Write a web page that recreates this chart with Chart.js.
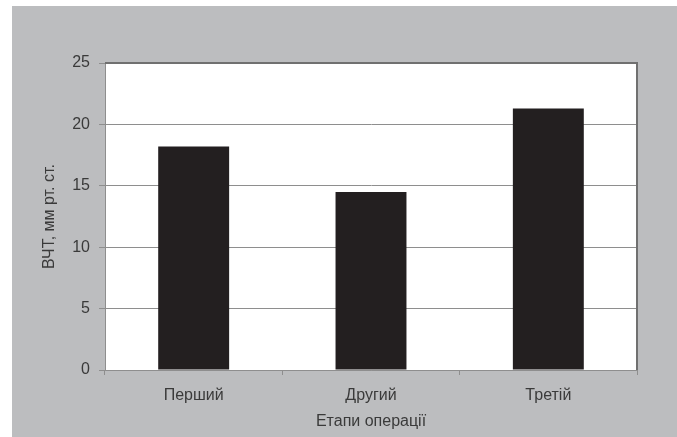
<!DOCTYPE html>
<html lang="uk">
<head>
    <meta charset="UTF-8">
    <title>ВЧТ за етапами операції</title>
    <script src="https://cdn.jsdelivr.net/npm/chart.js@4.4.0/dist/chart.umd.min.js"></script>
    <style>
        body {
            margin: 0;
            background-color: #ffffff;
        }
        .panel {
            position: absolute;
            left: 12px;
            top: 6px;
            width: 665px;
            height: 431px;
            background-color: #bcbdbf;
        }
    </style>
</head>
<body>
    <div class="panel">
        <canvas id="chart" width="665" height="431"></canvas>
    </div>

    <script>
        const stages = ['Перший', 'Другий', 'Третій'];
        const pressureValues = [18.2, 14.5, 21.3];
        const yTicks = [0, 5, 10, 15, 20, 25];

        const textColor = '#3a3a3a';
        const gridColor = '#8e8e8e';

        // white plot area plus the darker frame on top and right
        const plotFrame = {
            id: 'plotFrame',
            beforeDraw(chart) {
                const {ctx, chartArea: a} = chart;
                ctx.save();
                ctx.fillStyle = '#ffffff';
                ctx.fillRect(a.left, a.top, a.right - a.left, a.bottom - a.top);
                ctx.restore();
            },
            afterDraw(chart) {
                const {ctx, chartArea: a} = chart;
                ctx.save();
                ctx.strokeStyle = '#707070';
                ctx.lineWidth = 2;
                ctx.beginPath();
                ctx.moveTo(a.left, a.top);
                ctx.lineTo(a.right, a.top);
                ctx.lineTo(a.right, a.bottom);
                ctx.stroke();
                ctx.restore();
            }
        };

        new Chart(document.getElementById('chart'), {
            type: 'bar',
            data: {
                labels: stages,
                datasets: [{
                    data: pressureValues,
                    backgroundColor: '#231f20',
                    borderWidth: 0,
                    categoryPercentage: 0.4,
                    barPercentage: 1
                }]
            },
            options: {
                responsive: false,
                animation: false,
                layout: {
                    padding: { top: 57, right: 40, left: 0, bottom: 0 }
                },
                plugins: {
                    legend: { display: false },
                    tooltip: { enabled: false }
                },
                scales: {
                    x: {
                        afterFit: s => { s.height = 67; },
                        grid: {
                            offset: true,
                            drawOnChartArea: false,
                            color: gridColor,
                            tickLength: 5
                        },
                        border: { color: gridColor, width: 1 },
                        ticks: {
                            color: textColor,
                            padding: 11,
                            font: { family: 'Liberation Sans', size: 16 }
                        },
                        title: {
                            display: true,
                            text: 'Етапи операції',
                            color: textColor,
                            padding: { top: 0, bottom: 6 },
                            font: { family: 'Liberation Sans', size: 16 }
                        }
                    },
                    y: {
                        min: 0,
                        max: 25,
                        afterFit: s => { s.width = 93; },
                        afterBuildTicks: s => { s.ticks = yTicks.map(v => ({ value: v })); },
                        grid: {
                            color: gridColor,
                            tickLength: 6
                        },
                        border: { color: gridColor, width: 1 },
                        ticks: {
                            color: textColor,
                            padding: 9,
                            font: { family: 'Liberation Sans', size: 16 }
                        },
                        title: {
                            display: true,
                            text: 'ВЧТ, мм рт. ст.',
                            color: textColor,
                            padding: { top: 28, bottom: 0 },
                            font: { family: 'Liberation Sans', size: 16 }
                        }
                    }
                }
            },
            plugins: [plotFrame]
        });
    </script>
</body>
</html>
